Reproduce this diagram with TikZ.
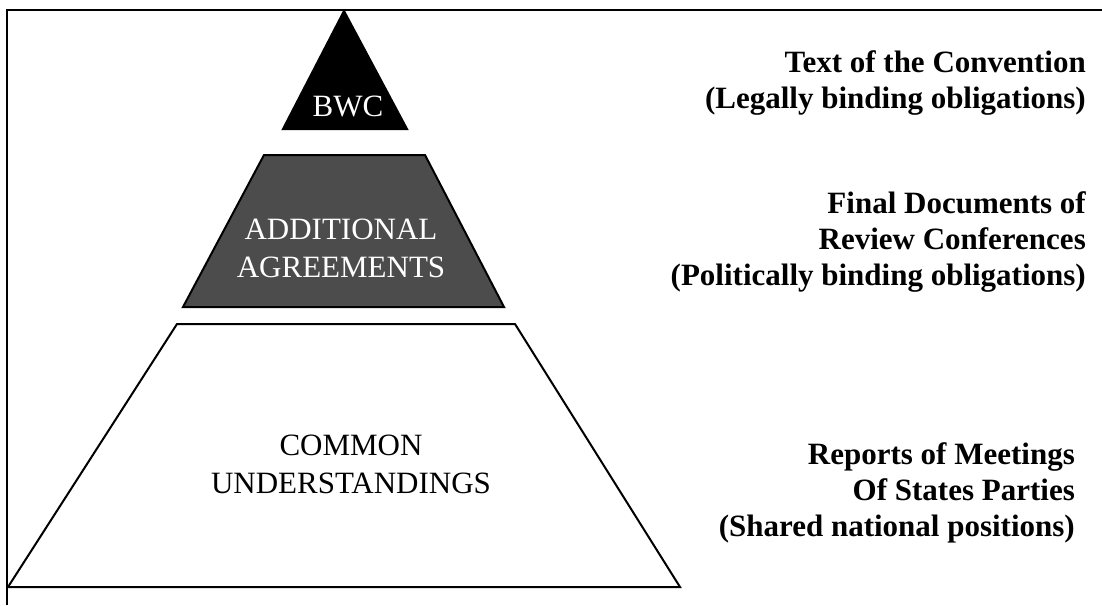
\documentclass[tikz,border=0pt]{standalone}
\usepackage{fontspec}
\setmainfont{Liberation Serif}
\begin{document}
\begin{tikzpicture}[x=1pt,y=-1pt,
  tier/.style={draw=black,line width=2pt},
  inlbl/.style={font=\fontsize{31}{38}\selectfont,align=center,inner sep=0pt,anchor=base},
  sidelbl/.style={font=\fontsize{31}{36}\selectfont\bfseries,align=right,inner sep=0pt,anchor=base east}]
\useasboundingbox (0,0) rectangle (1102,605);
% frame
\draw[line width=2pt] (7,605) -- (7,10) -- (1102,10);
% pyramid
\filldraw[tier,fill=black] (344,11) -- (407,129) -- (283,129) -- cycle;
\filldraw[tier,fill=black!70] (264,155) -- (425,155) -- (504,307) -- (183,307) -- cycle;
\draw[tier] (177,324) -- (515,324) -- (680,587) -- (8,587) -- cycle;
% base anchor = last line
\node[inlbl,text=white] (bwc) at (348,116) {BWC};
\node[inlbl,text=white] (agree) at (341,277) {ADDITIONAL\\AGREEMENTS};
\node[inlbl] (common) at (351,493) {COMMON\\UNDERSTANDINGS};
% labels
\node[sidelbl] (conv) at (1086,108) {Text of the Convention\\(Legally binding obligations)};
\node[sidelbl] (final) at (1086,285) {Final Documents of\\Review Conferences\\(Politically binding obligations)};
\node[sidelbl] (reports) at (1075,536) {Reports of Meetings\\Of States Parties\\(Shared national positions)};
\end{tikzpicture}
\end{document}
